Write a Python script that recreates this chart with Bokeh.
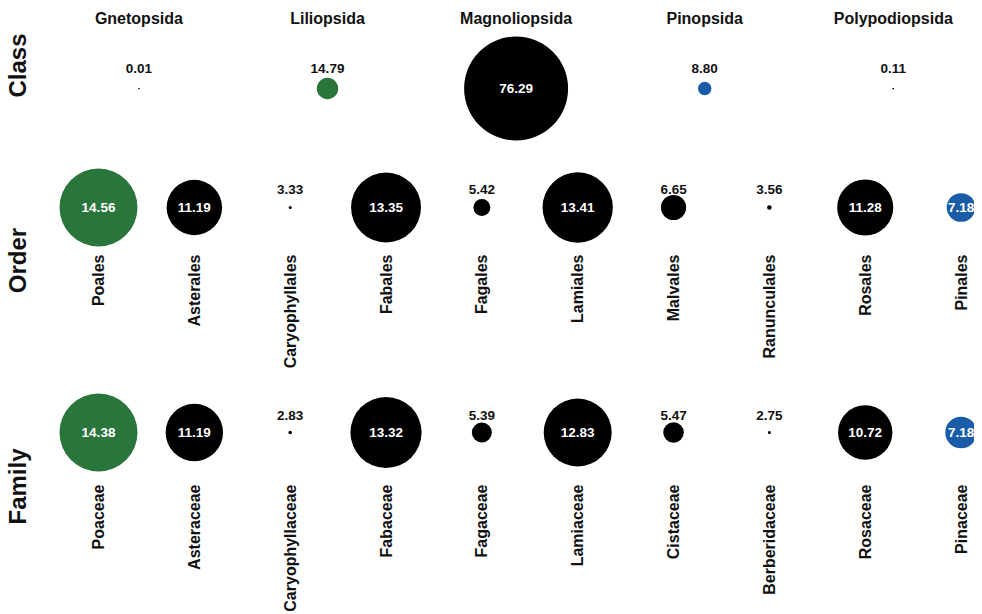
import math
from bokeh.plotting import figure
from bokeh.models import Range1d, ColumnDataSource, Label
from bokeh.layouts import column
from bokeh.embed import file_html
from bokeh.resources import INLINE
from bokeh.core.properties import value

# ---- data ----
class_names = ["Gnetopsida", "Liliopsida", "Magnoliopsida", "Pinopsida", "Polypodiopsida"]
class_values = [0.01, 14.79, 76.29, 8.80, 0.11]
class_colors = ["#000000", "#2a753b", "#000000", "#1a5ca8", "#000000"]

order_names = ["Poales", "Asterales", "Caryophyllales", "Fabales", "Fagales",
               "Lamiales", "Malvales", "Ranunculales", "Rosales", "Pinales"]
order_values = [14.56, 11.19, 3.33, 13.35, 5.42, 13.41, 6.65, 3.56, 11.28, 7.18]
order_colors = ["#2a753b"] + ["#000000"] * 8 + ["#1a5ca8"]

family_names = ["Poaceae", "Asteraceae", "Caryophyllaceae", "Fabaceae", "Fagaceae",
                "Lamiaceae", "Cistaceae", "Berberidaceae", "Rosaceae", "Pinaceae"]
family_values = [14.38, 11.19, 2.83, 13.32, 5.39, 12.83, 5.47, 2.75, 10.72, 7.18]
family_colors = ["#2a753b"] + ["#000000"] * 8 + ["#1a5ca8"]

FONT = value("Liberation Sans")
W = 974


def sizes(vals, rmin, rmax):
    lo, hi = min(vals), max(vals)
    fr = [(v - lo) / (hi - lo) for v in vals]
    return fr, [2 * (rmin + (rmax - rmin) * f) for f in fr]


def make_row(names, vals, colors, height, y_top, first_px, step_px, rmin, rmax,
             label_off, row_label, row_label_y, header=False, name_off=None):
    start = -first_px / step_px
    end = start + W / step_px
    p = figure(width=W, height=height, output_backend="svg", toolbar_location=None,
               x_range=Range1d(start, end), y_range=Range1d(-(height - y_top), y_top),
               min_border=0, min_border_left=0, min_border_right=0,
               min_border_top=0, min_border_bottom=0)
    p.axis.visible = False
    p.grid.visible = False
    p.outline_line_color = None
    fr, sz = sizes(vals, rmin, rmax)
    idx = list(range(len(vals)))
    inside = [f > 0.32 for f in fr]
    src = ColumnDataSource(dict(x=idx, y=[0] * len(vals), size=sz, color=colors,
                                name=names))
    p.scatter("x", "y", source=src, size="size", fill_color="color", line_color="color",
              line_width=0)
    ins = ColumnDataSource(dict(x=[i for i in idx if inside[i]], y=[0] * sum(inside),
                                lab=["%.2f" % vals[i] for i in idx if inside[i]]))
    out = ColumnDataSource(dict(x=[i for i in idx if not inside[i]], y=[0] * (len(idx) - sum(inside)),
                                lab=["%.2f" % vals[i] for i in idx if not inside[i]]))
    p.text("x", "y", text="lab", source=ins, text_color="white", text_font=FONT,
           text_font_style="bold", text_font_size="13.5px", text_align="center",
           text_baseline="middle")
    p.text("x", "y", text="lab", source=out, text_color="#111111", text_font=FONT,
           text_font_style="bold", text_font_size="13.5px", text_align="center",
           text_baseline="middle", y_offset=-label_off)
    if header:
        p.text("x", "y", text="name", source=src, text_color="#111111", text_font=FONT,
               text_font_style="bold", text_font_size="16px", text_align="center",
               text_baseline="middle", y_offset=-70)
    if name_off is not None:
        p.text("x", "y", text="name", source=src, text_color="#111111", text_font=FONT,
               text_font_style="bold", text_font_size="16px", text_align="right",
               text_baseline="middle", angle=math.pi / 2, y_offset=name_off)
    p.add_layout(Label(x=17, y=height - row_label_y, x_units="screen", y_units="screen",
                       text=row_label, angle=math.pi / 2, text_align="center",
                       text_baseline="middle", text_font="Liberation Sans",
                       text_font_style="bold", text_font_size="24px",
                       text_color="#111111"))
    return p


p1 = make_row(class_names, class_values, class_colors, 160, 88, 138.4, 188.6, 0.8, 52,
              20, "Class", 65, header=True)
p2 = make_row(order_names, order_values, order_colors, 230, 47, 98, 95.84, 1.5, 39,
              18, "Order", 100, name_off=47)
p3 = make_row(family_names, family_values, family_colors, 222, 42, 98, 95.84, 1.5, 39,
              17, "Family", 96, name_off=52)

layout = column(p1, p2, p3, spacing=0)
open("out.html", "w").write(file_html(layout, INLINE))
